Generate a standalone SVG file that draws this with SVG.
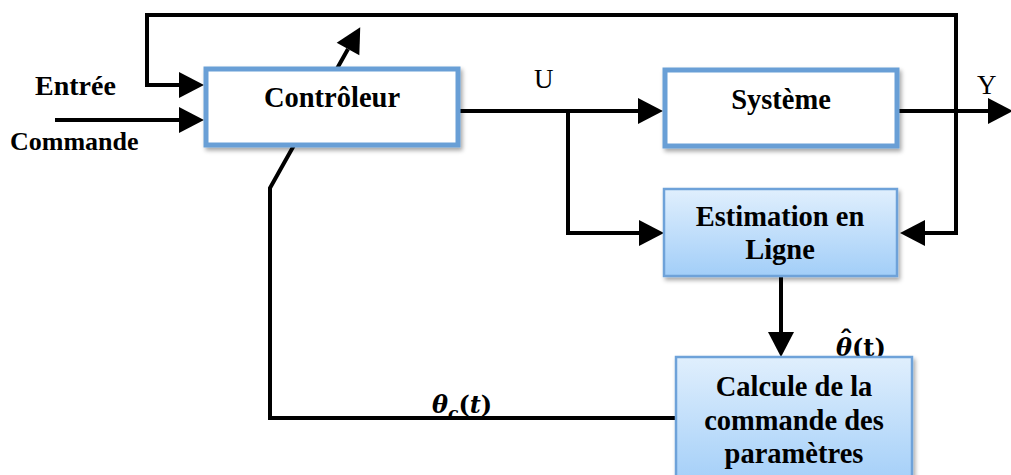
<svg xmlns="http://www.w3.org/2000/svg" width="1011" height="475" viewBox="0 0 1011 475">
  <defs>
    <marker id="arrow" markerUnits="userSpaceOnUse" markerWidth="26" markerHeight="26" refX="0" refY="13" orient="auto" overflow="visible">
      <path d="M0,0 L25,13 L0,26 Z" fill="#000"/>
    </marker>
    <linearGradient id="blueFill" x1="0" y1="0" x2="0" y2="1">
      <stop offset="0" stop-color="#e0effd"/>
      <stop offset="1" stop-color="#a2cef8"/>
    </linearGradient>
    <filter id="shadow" x="-10%" y="-10%" width="125%" height="135%">
      <feDropShadow dx="2" dy="3" stdDeviation="2" flood-color="#000" flood-opacity="0.35"/>
    </filter>
  </defs>
  <style>
    .wire { fill: none; stroke: #000; stroke-width: 4; stroke-linejoin: miter; }
    .box-white { fill: #fff; stroke: #699fd6; stroke-width: 5; filter: url(#shadow); }
    .box-blue { fill: url(#blueFill); stroke: #6ea2d9; stroke-width: 2.5; filter: url(#shadow); }
    .label { font-family: "Liberation Serif", "Times New Roman", serif; font-weight: bold; font-size: 28.5px; fill: #000; text-anchor: middle; }
    .signal { font-family: "Liberation Serif", "Times New Roman", serif; font-size: 27px; fill: #000; }
    .side { font-family: "Liberation Serif", "Times New Roman", serif; font-weight: bold; fill: #000; }
    .math { font-family: "DejaVu Serif", serif; font-weight: bold; font-size: 24px; fill: #000; }
  </style>

  <rect width="1011" height="475" fill="#fff"/>

  <!-- connectors -->
  <g id="connectors">
    <path class="wire" d="M956,15 H147 V85 H179" marker-end="url(#arrow)"/>
    <path class="wire" d="M956,13 V233 H925" marker-end="url(#arrow)"/>
    <path class="wire" d="M55,120 H179" marker-end="url(#arrow)"/>
    <path class="wire" d="M460,111 H638" marker-end="url(#arrow)"/>
    <path class="wire" d="M568,111 V233 H639" marker-end="url(#arrow)"/>
    <path class="wire" d="M899,111 H988" marker-end="url(#arrow)"/>
    <path class="wire" d="M781,277 V332" marker-end="url(#arrow)"/>
    <path class="wire" d="M676,418 H270 V188 L348,49" marker-end="url(#arrow)"/>
  </g>

  <!-- signal labels -->
  <g id="labels">
    <text class="side" x="35" y="95" font-size="28">Entrée</text>
    <text class="side" x="10" y="150" font-size="26">Commande</text>
    <text class="signal" x="534" y="88">U</text>
    <text class="signal" x="977" y="94">Y</text>
    <!-- estimated parameters: theta with a widened hat, partly tucked under the block below -->
    <text class="math" x="836" y="356" font-size="25"><tspan font-style="italic">θ</tspan>(t)</text>
    <text class="math" x="839" y="348" font-size="30" transform="translate(839 0) scale(1.2 1) translate(-839 0)">ˆ</text>
    <text class="math" x="432" y="413"><tspan font-style="italic">θ</tspan><tspan font-style="italic" font-size="17" dy="6">c</tspan><tspan dy="-6">(</tspan><tspan font-style="italic">t</tspan>)</text>
  </g>

  <!-- blocks -->
  <g id="controleur">
    <rect class="box-white" x="206" y="69" width="252" height="76"/>
    <text class="label" x="332" y="107">Contrôleur</text>
  </g>
  <g id="systeme">
    <rect class="box-white" x="665" y="70" width="232" height="76"/>
    <text class="label" x="781" y="109">Système</text>
  </g>
  <g id="estimation">
    <rect class="box-blue" x="664" y="189" width="233" height="87"/>
    <text class="label" x="780" y="226">Estimation en</text>
    <text class="label" x="780" y="259">Ligne</text>
  </g>
  <g id="calcule">
    <rect class="box-blue" x="676" y="357" width="236" height="130"/>
    <text class="label" x="794" y="396">Calcule de la</text>
    <text class="label" x="794" y="430">commande des</text>
    <text class="label" x="794" y="463">paramètres</text>
  </g>
</svg>
